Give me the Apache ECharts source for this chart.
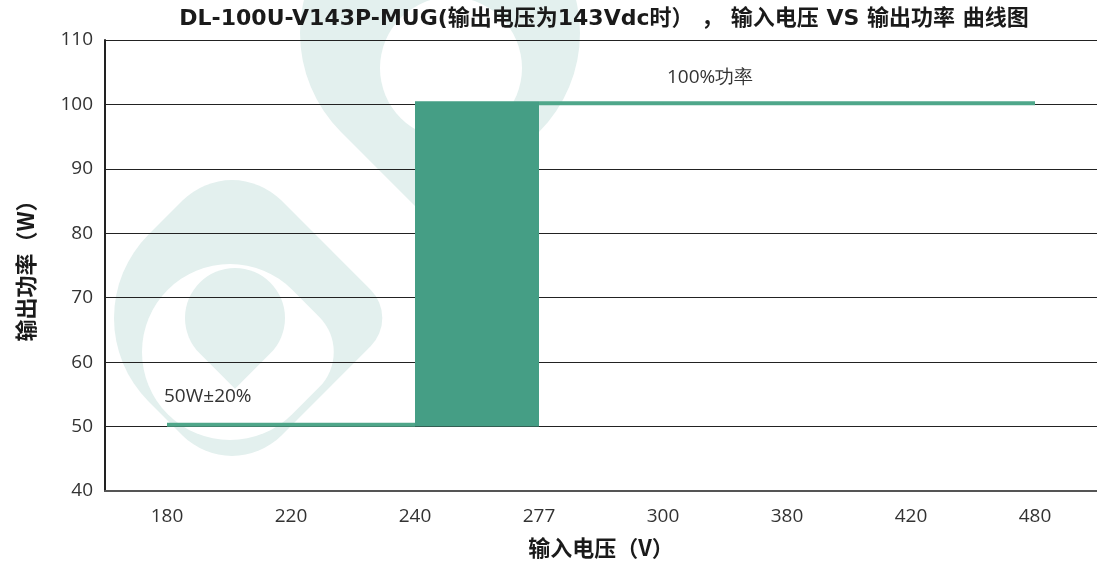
<!DOCTYPE html>
<html>
<head>
<meta charset="utf-8">
<script src="https://cdn.jsdelivr.net/npm/echarts@6/dist/echarts.min.js"></script>
<style>
  html, body { margin: 0; padding: 0; background: #fff; }
  #chart { width: 1097px; height: 567px; }
</style>
</head>
<body>
<div id="chart"></div>
<script>
// 输入电压分类
var voltages = ['180', '220', '240', '277', '300', '380', '420', '480'];
// 低压段 50W 线
var lowPower = [50.3, 50.3, 50.3, '-', '-', '-', '-', '-'];
// 满功率 100W 线
var fullPower = ['-', '-', '-', 100.2, 100.2, 100.2, 100.2, 100.2];
// 过渡区 (240~277V, 50~100W)
var bandVoltage = ['240', '277'];
var bandPower = [50, 100.5];
var yTicks = { min: 40, max: 110, interval: 10 };

var lineColor = '#4fa78a';
var fillColor = '#459e85';
var markColor = '#e3f0ee';
var textFont = '"Noto Sans CJK SC", "Noto Sans", sans-serif';
var titleFont = '"DejaVu Sans", "Noto Sans CJK SC", sans-serif';
var tickFont = '"Open Sans", "Noto Sans", sans-serif';

var chart = echarts.init(document.getElementById('chart'));

// 水印: 水滴形 (圆角矩形旋转45度)
function drop(x, y, r, radius, rot, z, fill) {
    return {
        type: 'group', x: x, y: y, rotation: rot, z: z,
        children: [{
            type: 'rect', z: z, silent: true,
            shape: { x: -r, y: -r, width: 2 * r, height: 2 * r, r: radius },
            style: { fill: fill || markColor }
        }]
    };
}

var option = {
    backgroundColor: '#fff',
    animation: false,
    title: {
        text: 'DL-100U-V143P-MUG(输出电压为143Vdc时） ， 输入电压 VS 输出功率 曲线图',
        left: 599,
        textAlign: 'center',
        top: 3,
        textStyle: { fontSize: 22, fontWeight: 'bold', color: '#1a1a1a', fontFamily: titleFont }
    },
    graphic: [
        drop(232, 318, 118, [118, 70, 40, 70], Math.PI / 4, -10),
        drop(230, 352, 88, [88, 88, 50, 88], Math.PI / 4, -9, '#fff'),
        drop(235, 318, 50, [50, 50, 50, 0], Math.PI / 4, -8),
        drop(440, 33, 140, [140, 140, 140, 0], Math.PI / 4, -10),
        { type: 'circle', z: -9, silent: true, shape: { cx: 451, cy: 68, r: 71 }, style: { fill: '#fff' } }
    ],
    grid: { left: 105, right: 0, top: 40, bottom: 76, containLabel: false },
    xAxis: {
        type: 'category',
        data: voltages,
        boundaryGap: true,
        name: '输入电压（V）',
        nameLocation: 'middle',
        nameGap: 46,
        nameTextStyle: { fontSize: 22, fontWeight: 'bold', color: '#1a1a1a', fontFamily: textFont },
        axisLine: { show: true, lineStyle: { color: '#555', width: 2 } },
        axisTick: { show: false },
        axisLabel: { fontSize: 19, color: '#333', margin: 16, fontFamily: tickFont },
        splitLine: { show: false }
    },
    yAxis: {
        type: 'value',
        min: yTicks.min,
        max: yTicks.max,
        interval: yTicks.interval,
        name: '输出功率（W）',
        nameLocation: 'middle',
        nameGap: 68,
        nameRotate: 90,
        nameTextStyle: { fontSize: 22, fontWeight: 'bold', color: '#1a1a1a', fontFamily: textFont },
        axisLine: { show: true, lineStyle: { color: '#222', width: 2 } },
        axisTick: { show: false },
        axisLabel: { fontSize: 19, color: '#333', margin: 12, fontFamily: tickFont },
        splitLine: { show: true, lineStyle: { color: '#222', width: 1 } }
    },
    series: [
        {
            name: '50W',
            type: 'line',
            data: lowPower.map(function (v, i) {
                if (i === 0) {
                    return {
                        value: v,
                        label: {
                            show: true, formatter: '50W±20%', position: 'top', align: 'left',
                            offset: [-3, -13], fontSize: 19, color: '#333', fontFamily: tickFont
                        }
                    };
                }
                return v;
            }),
            symbol: 'circle',
            symbolSize: 0.1,
            showAllSymbol: true,
            lineStyle: { color: lineColor, width: 4 },
            itemStyle: { color: lineColor },
            z: 3,
            markArea: {
                silent: true,
                itemStyle: { color: fillColor, opacity: 1 },
                data: [[
                    { xAxis: bandVoltage[0], yAxis: bandPower[0] },
                    { xAxis: bandVoltage[1], yAxis: bandPower[1] }
                ]]
            }
        },
        {
            name: '100W',
            type: 'line',
            data: fullPower.map(function (v, i) {
                if (i === 4) {
                    return {
                        value: v,
                        label: {
                            show: true, formatter: '100%功率', position: 'top', align: 'left',
                            offset: [4, -11], fontSize: 19, color: '#333', fontFamily: tickFont
                        }
                    };
                }
                return v;
            }),
            symbol: 'circle',
            symbolSize: 0.1,
            showAllSymbol: true,
            lineStyle: { color: lineColor, width: 4 },
            itemStyle: { color: lineColor },
            z: 3
        }
    ]
};

chart.setOption(option);
</script>
</body>
</html>
